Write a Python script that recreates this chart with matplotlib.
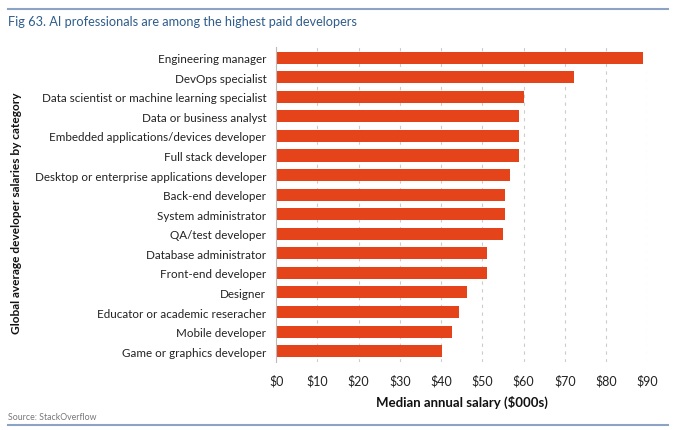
import matplotlib
matplotlib.use('Agg')
import matplotlib.pyplot as plt
from matplotlib.lines import Line2D

# ── data (median annual salary, $000s) ──
categories = [
    "Engineering manager",
    "DevOps specialist",
    "Data scientist or machine learning specialist",
    "Data or business analyst",
    "Embedded applications/devices developer",
    "Full stack developer",
    "Desktop or enterprise applications developer",
    "Back-end developer",
    "System administrator",
    "QA/test developer",
    "Database administrator",
    "Front-end developer",
    "Designer",
    "Educator or academic reseracher",
    "Mobile developer",
    "Game or graphics developer",
]
salaries = [89.0, 72.3, 60.0, 58.9, 58.9, 58.9, 56.6, 55.5, 55.5, 54.9,
            51.1, 51.1, 46.4, 44.4, 42.7, 40.1]
xticks = [0, 10, 20, 30, 40, 50, 60, 70, 80, 90]
xtick_labels = [f"${v}" for v in xticks]

BAR = "#E5431A"
BLUE = "#2F5D8C"
RULE = "#8DA3C6"

plt.rcParams['font.family'] = ['Lato', 'DejaVu Sans']

fig = plt.figure(figsize=(6.8, 4.31), dpi=100)
ax = fig.add_axes([0.406, 0.158, 0.546, 0.731])

ypos = list(range(len(categories)))
ax.barh(ypos, salaries, height=0.62, color=BAR)
ax.set_ylim(len(categories) - 0.45, -0.55)
ax.set_xlim(0, 90)
ax.set_yticks(ypos)
ax.set_yticklabels(categories, fontsize=8.4, color="#222222")
ax.tick_params(axis='both', length=0, pad=7)
ax.set_xticks(xticks)
ax.set_xticklabels(xtick_labels, fontsize=9, color="#222222")
ax.tick_params(axis='x', pad=9)

ax.grid(axis='x', linestyle=(0, (3, 4)), color="#cccccc", linewidth=0.8)
ax.set_axisbelow(True)
for s in ['top', 'right', 'bottom']:
    ax.spines[s].set_visible(False)
ax.spines['left'].set_color("#bbbbbb")
ax.spines['left'].set_linewidth(0.8)

ax.set_xlabel("Median annual salary ($000s)", fontsize=9.5, fontweight='bold',
              labelpad=6, color="#111111")
fig.text(0.016, 0.505, "Global average developer salaries by category", rotation=90,
         fontsize=8.6, fontweight='bold', ha='left', va='center', color="#111111")

# header / footer
fig.add_artist(Line2D([0.012, 0.982], [0.977, 0.977], color=RULE, linewidth=1.5))
fig.text(0.012, 0.962, "Fig 63. AI professionals are among the highest paid developers",
         fontsize=9.2, color=BLUE, ha='left', va='top')
fig.text(0.012, 0.022, "Source: StackOverflow", fontsize=6.3, color="#777777",
         ha='left', va='bottom')
fig.add_artist(Line2D([0.012, 0.982], [0.012, 0.012], color=RULE, linewidth=1.5))

fig.savefig("out.png", dpi=100)
